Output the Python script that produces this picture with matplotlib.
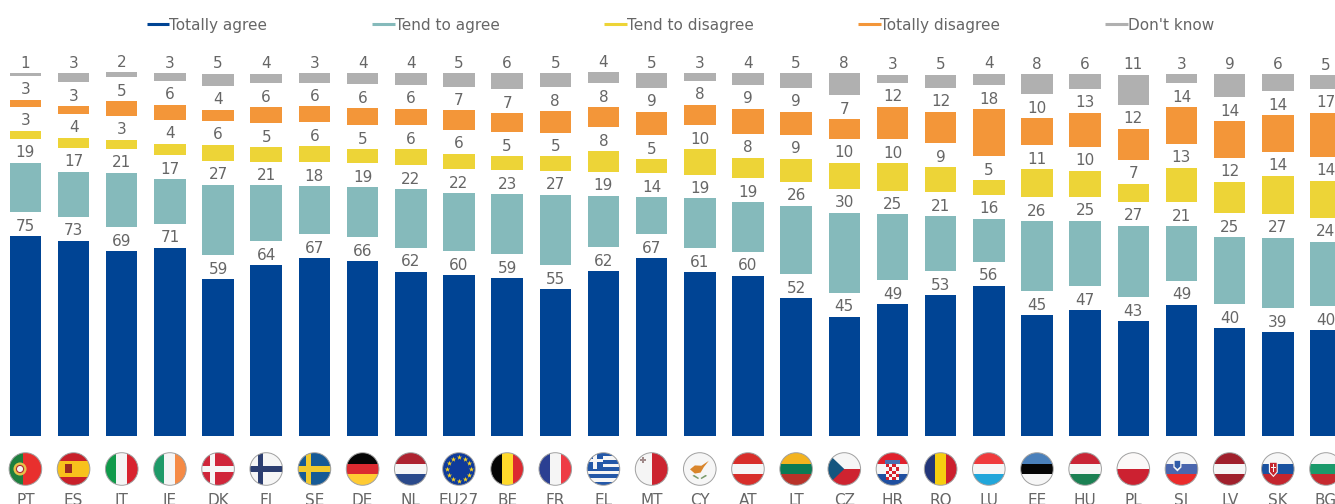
import numpy as np
import matplotlib
matplotlib.use("Agg")
import matplotlib.pyplot as plt
from matplotlib.lines import Line2D
from matplotlib.patches import Circle, Rectangle, Polygon

categories = ["PT","ES","IT","IE","DK","FI","SE","DE","NL","EU27","BE","FR","EL","MT","CY","AT","LT","CZ","HR","RO","LU","EE","HU","PL","SI","LV","SK","BG"]
totally_agree = [75.0,73.2,69.2,70.6,58.7,64.1,66.6,65.6,61.6,60.3,59.1,55.0,61.7,66.6,61.4,60.0,51.7,44.6,49.4,52.8,56.3,45.3,47.1,42.9,49.1,40.3,38.8,39.6]
tend_agree = [18.6,17.0,20.6,16.7,26.6,20.9,18.2,18.7,22.1,21.8,22.6,26.6,19.4,14.0,18.7,18.8,25.7,30.2,24.7,20.7,16.2,26.2,24.6,26.9,20.6,25.2,26.6,24.3]
tend_disagree = [3.0,3.8,3.4,4.4,6.0,5.3,6.0,5.4,5.9,5.8,5.4,5.3,7.8,5.3,9.6,7.6,8.6,9.8,10.2,9.4,5.4,10.7,9.9,6.8,12.9,11.9,14.3,13.9]
totally_disagree = [2.6,2.9,5.4,5.6,4.1,6.1,5.9,6.3,6.3,7.3,7.0,8.0,7.6,8.9,7.6,9.4,8.8,7.4,12.3,11.8,17.7,10.0,12.7,11.7,13.9,13.8,13.8,16.6]
dont_know = [1.1,3.3,2.0,2.9,4.6,3.6,3.4,4.3,4.3,4.9,6.0,5.3,4.1,5.3,2.9,4.4,5.4,8.1,3.1,5.0,4.4,7.6,5.6,11.3,3.4,8.6,6.3,5.1]
series_names = ["Totally agree","Tend to agree","Tend to disagree","Totally disagree","Don't know"]
series = [totally_agree, tend_agree, tend_disagree, totally_disagree, dont_know]
colors = ["#004494","#85BABB","#EDD437","#F39639","#B0B0B0"]
TXT = "#666666"

W, H = 1335, 504
fig = plt.figure(figsize=(W/100, H/100), dpi=100)
BASE = 435.5; SCALE = 2.66; STEP = 48.17; X0 = 25.4; GAP = 9.0
ax = fig.add_axes([0, (H-BASE)/H, 1, BASE/H])
ax.set_xlim(-X0/STEP, (W-X0)/STEP)
ax.set_ylim(0, BASE/SCALE)
x = np.arange(len(categories))
bottom = np.zeros(len(categories))
for vals, c in zip(series, colors):
    v = np.array(vals)
    ax.bar(x, v, 0.654, bottom=bottom, color=c, edgecolor=c, linewidth=0)
    for xi, top, val in zip(x, bottom+v, v):
        ax.annotate(f"{int(val+0.5)}", (xi, top), xytext=(0, 3.9), textcoords="offset points",
                    ha="center", va="baseline", fontsize=11, color=TXT)
    bottom = bottom + v + GAP
for s in ax.spines.values():
    s.set_visible(False)
ax.set_yticks([])
ax.set_xticks(x)
ax.set_xticklabels(categories, fontsize=11, color=TXT)
ax.tick_params(axis="x", length=0, pad=41.5)

handles = [Line2D([], [], color=c, lw=2.2, solid_capstyle="butt") for c in colors]
fig.legend(handles, series_names, ncol=5, loc="center left", bbox_to_anchor=(146.5/W, 1-25.2/H),
           frameon=False, fontsize=11, labelcolor=TXT, handlelength=1.5, handletextpad=0,
           columnspacing=6.82, borderpad=0, borderaxespad=0)

# flags
fa = fig.add_axes([0, 0, 1, 1], facecolor="none")
fa.set_xlim(0, W); fa.set_ylim(H, 0); fa.axis("off")
R = 16.3; CY_ = 469

H_ = {"ES":["#C8202A","#F8C21C","#F8C21C","#C8202A"],"DE":["#050505","#DB2A30","#FFCB33"],
      "NL":["#AE2330","#F6F6F6","#2B4A8B"],"AT":["#D82E2A","#F6F6F6","#D82E2A"],
      "LT":["#F3B31F","#0B7A54","#B93229"],"HR":["#E0202C","#F6F6F6","#1F4FA0"],
      "LU":["#EF3B3D","#F6F6F6","#21A6DA"],"EE":["#4A80BB","#050505","#F6F6F6"],
      "HU":["#C92536","#F6F6F6","#1B8053"],"PL":["#FBF9F8","#CC2131"],
      "SI":["#F6F6F6","#4A66AE","#EA2B2B"],"LV":["#A0202C","#F6F6F6","#A0202C"],
      "SK":["#F6F6F6","#1A52A0","#C4252E"],"BG":["#F6F6F6","#1B9A6B","#C62A30"],
      "CZ":["#F6F6F6","#CE2330"]}
V_ = {"IT":["#109A4A","#F5F5F5","#D8232F"],"IE":["#1E9A68","#F5F5F5","#F58A45"],
      "BE":["#050505","#FFD92B","#DC2A30"],"FR":["#2B3F92","#F5F5F5","#EE3B45"],
      "RO":["#22367A","#F6CE10","#CC1F2E"],"MT":["#F5F5F5","#CC2430"]}
CROSS = {"DK":("#D0263A","#F6F6F6"),"FI":("#F6F6F6","#2C3E70"),"SE":("#175A96","#F1C92D")}

def flag(code, cx):
    clip = Circle((cx, CY_), R, transform=fa.transData)
    def rect(x0, y0, w, h, c):
        p = Rectangle((cx+x0*R, CY_+y0*R), w*R, h*R, fc=c, ec="none")
        fa.add_patch(p); p.set_clip_path(clip); return p
    def poly(pts, c):
        p = Polygon([(cx+a*R, CY_+b*R) for a, b in pts], fc=c, ec="none")
        fa.add_patch(p); p.set_clip_path(clip); return p
    if code in H_:
        n = len(H_[code])
        for i, c in enumerate(H_[code]):
            rect(-1, -1+2*i/n, 2, 2/n, c)
    elif code in V_:
        n = len(V_[code])
        for i, c in enumerate(V_[code]):
            rect(-1+2*i/n, -1, 2/n, 2, c)
    elif code in CROSS:
        bg, fg = CROSS[code]
        rect(-1, -1, 2, 2, bg)
        rect(-1, -0.17, 2, 0.34, fg)
        rect(-0.52, -1, 0.34, 2, fg)
    elif code == "PT":
        rect(-1, -1, 0.85, 2, "#1E7F3E"); rect(-0.15, -1, 1.15, 2, "#E8302E")
        fa.add_patch(Circle((cx-0.33*R, CY_), 0.4*R, fc="#E7C34A", ec="none"))
        fa.add_patch(Circle((cx-0.33*R, CY_), 0.22*R, fc="#F4F4F4", ec="#B02A30", lw=0.8))
    elif code == "EU27":
        rect(-1, -1, 2, 2, "#0F3B9A")
        a = np.arange(12)*np.pi/6
        fa.scatter(cx+0.72*R*np.cos(a), CY_+0.72*R*np.sin(a), marker="*", s=16, c="#F8D21E", linewidths=0)
    elif code == "EL":
        for i in range(9):
            rect(-1, -1+2*i/9, 2, 2/9, "#2458A8" if i % 2 == 0 else "#F6F6F6")
        rect(-1, -1, 0.95, 0.98, "#2458A8")
        rect(-1, -0.64, 0.95, 0.24, "#F6F6F6"); rect(-0.64, -1, 0.24, 0.98, "#F6F6F6")
    elif code == "CY":
        rect(-1, -1, 2, 2, "#F6F6F6")
        poly([(-0.6,0.02),(-0.3,-0.22),(0.1,-0.2),(0.55,-0.5),(0.25,-0.12),(0.05,0.22),(-0.3,0.28)], "#D9852B")
        poly([(-0.45,0.42),(-0.1,0.62),(-0.05,0.55),(-0.35,0.36)], "#7A9A6A")
        poly([(0.45,0.42),(0.1,0.62),(0.05,0.55),(0.35,0.36)], "#7A9A6A")
    if code == "CZ":
        poly([(-1.05,-1),(0,0),(-1.05,1)], "#14557F")
    if code == "ES":
        rect(-0.5, -0.28, 0.38, 0.52, "#9C2A20")
    if code == "MT":
        rect(-0.7, -0.62, 0.34, 0.12, "#A08A8A"); rect(-0.59, -0.73, 0.12, 0.34, "#A08A8A")
    if code == "HR":
        for i in range(5):
            for j in range(4):
                rect(-0.4+0.2*j, -0.3+0.2*i, 0.2, 0.2, "#D8202C" if (i+j) % 2 == 0 else "#F6F6F6")
        rect(-0.45, -0.55, 0.9, 0.22, "#4A6FB0")
    if code == "SI":
        poly([(-0.5,-0.55),(0,-0.55),(0,-0.1),(-0.25,0.15),(-0.5,-0.1)], "#F6F6F6")
        poly([(-0.42,-0.5),(-0.08,-0.5),(-0.08,-0.15),(-0.25,0.0),(-0.42,-0.15)], "#2F5BA8")
    if code == "SK":
        poly([(-0.55,-0.45),(0.0,-0.45),(0.0,0.2),(-0.27,0.5),(-0.55,0.2)], "#F6F6F6")
        poly([(-0.48,-0.38),(-0.07,-0.38),(-0.07,0.17),(-0.27,0.4),(-0.48,0.17)], "#C4252E")
        rect(-0.3, -0.3, 0.07, 0.5, "#F6F6F6"); rect(-0.4, -0.15, 0.27, 0.08, "#F6F6F6")
    fa.add_patch(Circle((cx, CY_), R, fc="none", ec="#A0A0A0", lw=0.7))

for i, code in enumerate(categories):
    flag(code, X0 + i*STEP)

fig.savefig("out.png", dpi=100)
